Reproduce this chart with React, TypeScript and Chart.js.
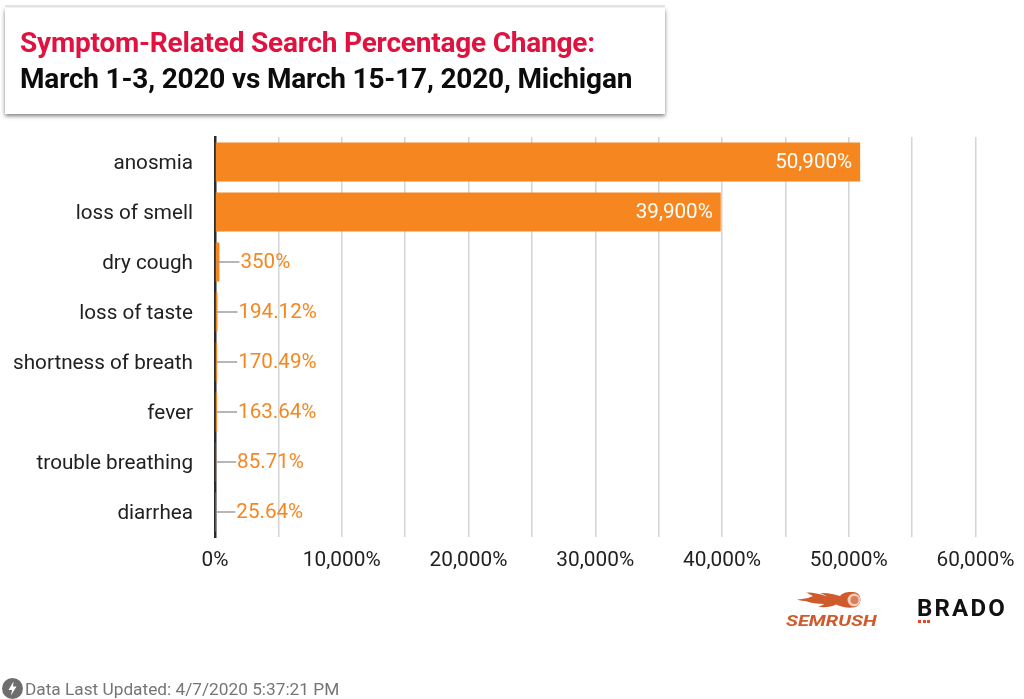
import React, { useEffect, useRef } from "react";
import { Chart, registerables } from "chart.js";

Chart.register(...registerables);

const categories = ["anosmia", "loss of smell", "dry cough", "loss of taste", "shortness of breath", "fever", "trouble breathing", "diarrhea"];
const values = [50900, 39900, 350, 194.12, 170.49, 163.64, 85.71, 25.64];
const valueLabels = ["50,900%", "39,900%", "350%", "194.12%", "170.49%", "163.64%", "85.71%", "25.64%"];
const insideLabelCount = 2;
const labelledTicks = [0, 10000, 20000, 30000, 40000, 50000, 60000];

const FONT = "Roboto, sans-serif";
const ORANGE = "#f6861f";

const valueLabelPlugin = {
  id: "valueLabels",
  afterDatasetsDraw(chart: any) {
    const { ctx } = chart;
    const meta = chart.getDatasetMeta(0);
    const yScale = chart.scales.y;
    ctx.save();
    ctx.textBaseline = "middle";
    // category labels, set 1.5px below the band centre as in the reference
    ctx.font = `20.7px ${FONT}`;
    ctx.fillStyle = "#212121";
    ctx.textAlign = "right";
    categories.forEach((c, i) => ctx.fillText(c, yScale.right - 22, yScale.getPixelForTick(i) + 1.5));
    ctx.font = `20.6px ${FONT}`;
    meta.data.forEach((bar: any, i: number) => {
      if (i < insideLabelCount) {
        ctx.fillStyle = "#ffffff";
        ctx.textAlign = "right";
        ctx.fillText(valueLabels[i], bar.x - 8, bar.y + 1);
      } else {
        ctx.strokeStyle = "#999999";
        ctx.lineWidth = 1.4;
        ctx.beginPath();
        ctx.moveTo(216, bar.y);
        ctx.lineTo(bar.x + 20, bar.y);
        ctx.stroke();
        ctx.fillStyle = ORANGE;
        ctx.textAlign = "left";
        ctx.fillText(valueLabels[i], bar.x + 21, bar.y + 1);
      }
    });
    ctx.restore();
  },
};

export default function App() {
  const ref = useRef<HTMLCanvasElement>(null);
  useEffect(() => {
    const chart = new Chart(ref.current!, {
      type: "bar",
      data: {
        labels: categories,
        datasets: [{ data: values, backgroundColor: ORANGE, borderWidth: 0, barPercentage: 0.78, categoryPercentage: 1 }],
      },
      options: {
        indexAxis: "y",
        animation: false,
        responsive: false,
        layout: { padding: { top: 137, right: 48.5, left: 0, bottom: 0 } },
        plugins: { legend: { display: false }, tooltip: { enabled: false } },
        scales: {
          x: {
            min: 0,
            max: 60000,
            afterFit(s: any) { s.height = 162; s.paddingLeft = 0; s.paddingRight = 0; },
            grid: { color: "#d4d4d4", lineWidth: 1.5, drawTicks: false },
            border: { display: false },
            ticks: {
              stepSize: 5000,
              autoSkip: false,
              maxRotation: 0,
              padding: 11,
              color: "#212121",
              font: { family: FONT, size: 20.8 },
              callback: (v: any) => (labelledTicks.includes(Number(v)) ? `${Number(v).toLocaleString("en-US")}%` : ""),
            },
          },
          y: {
            afterFit(s: any) { s.width = 215; s.paddingTop = 0; s.paddingBottom = 0; },
            grid: { display: false, drawTicks: false },
            border: { display: true, color: "#2b2b2b", width: 2.5 },
            ticks: { display: false },
          },
        },
      },
      plugins: [valueLabelPlugin],
    } as any);
    return () => chart.destroy();
  }, []);

  const abs = (s: React.CSSProperties): React.CSSProperties => ({ position: "absolute", whiteSpace: "nowrap", ...s });

  return (
    <div style={{ position: "fixed", left: 0, top: 0, width: 1024, height: 699, background: "#fff", overflow: "hidden", fontFamily: FONT }}>
      <canvas ref={ref} width={1024} height={699} style={{ position: "absolute", left: 0, top: 0, width: 1024, height: 699 }} />
      <div style={abs({ left: 5, top: 5, width: 660, height: 2, background: "#e6e6ec" })} />
      <div style={abs({ left: 5, top: 8, width: 660, height: 106, background: "#fff", boxShadow: "0 2px 4px rgba(0,0,0,0.5)" })} />
      <div style={abs({ left: 20, top: 26, fontSize: 28, lineHeight: "34px", fontWeight: 700, letterSpacing: -0.21, color: "#e0123f" })}>Symptom-Related Search Percentage Change:</div>
      <div style={abs({ left: 20, top: 62, fontSize: 28, lineHeight: "34px", fontWeight: 700, letterSpacing: -0.185, color: "#0c0c0c" })}>March 1-3, 2020 vs March 15-17, 2020, Michigan</div>

      <svg style={abs({ left: 797, top: 591 })} width={66} height={18} viewBox="0 0 66 18" fill="#cf5a2c">
        <path d="M0 8.5 C8 8 13 6.5 16 5 C13 3.5 11 2 9 1.5 C17 1.5 25 3.5 30 5.5 C27 3.5 25 2.5 23 2 C30 1.5 38 3 43 5 C45 2 50 0.5 56 1 C66 1 66 16 56 16.5 C50 17 44 16 39 13.5 C34 16 27 17 21 15.5 C24 15 26 14 27 13 C20 13 14 12 10 10.5 C7 10 3 9.5 0 8.5 Z" />
        <circle cx="57" cy="9" r="6.5" fill="#f4cdbb" />
        <circle cx="57.5" cy="9" r="4" fill="#d9805a" />
      </svg>
      <div style={abs({ left: 786, top: 612, width: 91, fontSize: 15.5, lineHeight: "18px", fontWeight: 700, fontStyle: "italic", color: "#cf5a2c", transform: "scaleX(1.29)", transformOrigin: "left center" })}>SEMRUSH</div>
      <div style={abs({ left: 917, top: 594, fontSize: 24, lineHeight: "28px", fontWeight: 700, color: "#111", letterSpacing: 2.2 })}>BRADO</div>
      {[918, 922.5, 927].map((x) => (
        <div key={x} style={abs({ left: x, top: 620, width: 3, height: 3, background: "#e8472b" })} />
      ))}

      <svg style={abs({ left: 2, top: 678 })} width={21} height={21} viewBox="0 0 21 21">
        <circle cx="10.5" cy="10.5" r="10.5" fill="#6e6e6e" />
        <path d="M11.5 3.5 L6.5 12 L10 12 L9 17.5 L14.5 8.5 L11 8.5 Z" fill="#fff" />
      </svg>
      <div style={abs({ left: 25, top: 680, fontSize: 17.25, lineHeight: "19px", color: "#757575" })}>Data Last Updated: 4/7/2020 5:37:21 PM</div>
    </div>
  );
}
